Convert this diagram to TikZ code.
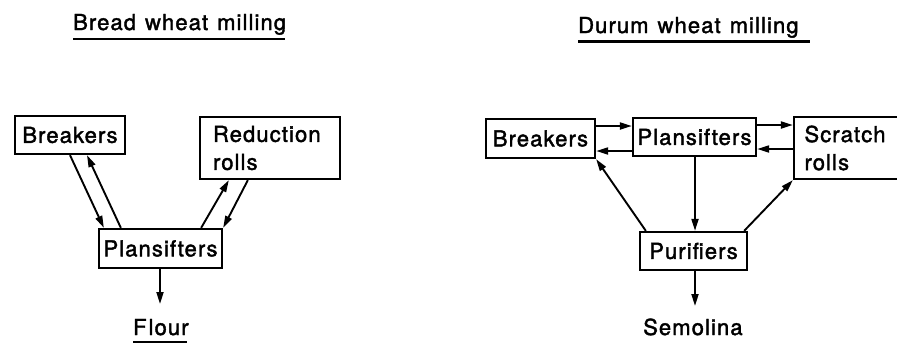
\documentclass[tikz,border=0pt]{standalone}
\usepackage{fontspec}
\setmainfont[LetterSpace=5,FakeBold=1.8]{TeX Gyre Heros}
\usetikzlibrary{arrows.meta,calc}
\newcommand{\wsp}{\hspace{9pt}}
\tikzset{
  box/.style={draw, line width=2.3pt, inner sep=0pt, minimum width=#1, font=\fontsize{22}{28}\selectfont},
  arr/.style={line width=1.9pt, -{Triangle[length=12pt,width=7pt]}},
  lbl/.style={inner sep=0pt, anchor=base west, font=\fontsize{22}{28}\selectfont},
  uline/.style={line width=2.2pt}
}
\begin{document}
\begin{tikzpicture}[x=1pt,y=-1pt]
\useasboundingbox (0,0) rectangle (897,343);
% ---------- left: bread wheat ----------
\node[lbl] (tL) at (73,30) {Bread\wsp wheat\wsp milling};
\draw[uline] (73,39) -- (285,39);
\node[box=110pt, minimum height=38pt] (LB) at (70,135) {Breakers};
\node[box=140pt, minimum height=62pt, text width=114pt, align=left] (LR) at (270,148) {Reduction\\rolls};
\node[box=123pt, minimum height=39pt] (LP) at (160.5,248.5) {Plansifters};
\node[lbl] (flour) at (133,335) {F\hspace{2pt}lour};
\draw[uline] (133,342) -- (187,342);
\draw[arr] (LB.south) -- ([xshift=6pt]LP.north west);
\draw[arr] ([xshift=23pt]LP.north west) -- ([xshift=17pt]LB.south);
\draw[arr] ([xshift=-22pt]LP.north east) -- ([xshift=30pt]LR.south west);
\draw[arr] ([xshift=49pt]LR.south west) -- (LP.north east);
\coordinate (fl) at (160,304);
\draw[arr] (LP.south -| fl) -- (fl);
% ---------- right: durum wheat ----------
\node[lbl] (tR) at (578,33) {Durum\wsp wheat\wsp milling};
\draw[uline] (578,41.5) -- (810,41.5);
\node[box=109pt, minimum height=39pt] (RB) at (540.5,138.5) {Breakers};
\node[box=123pt, minimum height=38pt] (RP) at (694.5,137) {Plansifters};
\node[box=113pt, minimum height=62pt, text width=92pt, align=left] (RS) at (850.5,148) {Scratch\\rolls};
\node[box=107pt, minimum height=38pt] (RU) at (693.5,251) {Purifiers};
\node[lbl] (sem) at (643,335) {Semolina};
\draw[arr] ([yshift=12.5pt]RB.east) -- ([yshift=12.5pt]RB.east -| RP.west);
\draw[arr] ([yshift=-12.5pt]RB.east -| RP.west) -- ([yshift=-12.5pt]RB.east);
\draw[arr] ([yshift=12pt]RP.east) -- ([yshift=12pt]RP.east -| RS.west);
\draw[arr] ([yshift=-12pt]RP.east -| RS.west) -- ([yshift=-12pt]RP.east);
\draw[arr] (RP.south -| 695,0) -- (RU.north -| 695,0);
\draw[arr] ([xshift=7pt]RU.north west) -- (RB.south east);
\draw[arr] ([xshift=-4pt]RU.north east) -- (RS.south west);
\coordinate (se) at (695,306);
\draw[arr] (RU.south -| se) -- (se);
\end{tikzpicture}
\end{document}
